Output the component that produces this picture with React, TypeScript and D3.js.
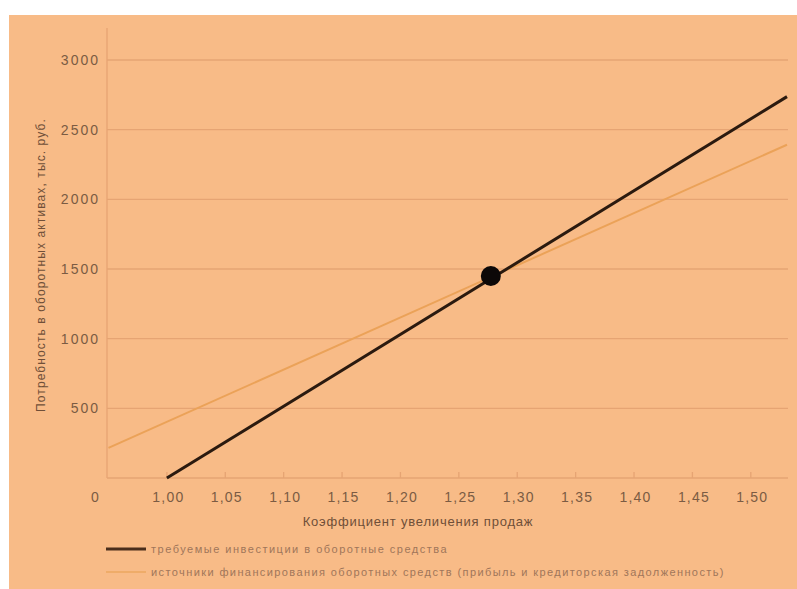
import React from "react";
import * as d3 from "d3";

const yTicks = [500, 1000, 1500, 2000, 2500, 3000];
const xTicks = [1.0, 1.05, 1.1, 1.15, 1.2, 1.25, 1.3, 1.35, 1.4, 1.45, 1.5];
const investX = [1.0, 1.531];
const investY = [0, 2737];
const sourceX = [0.95, 1.531];
const sourceY = [216, 2392];
const pointX = [1.2774];
const pointY = [1450];
const legendLabels = [
  "требуемые инвестиции в оборотные средства",
  "источники финансирования оборотных средств (прибыль и кредиторская задолженность)",
];

const W = 797;
const H = 589;

export default function App() {
  const x = d3.scaleLinear().domain([0.95, 1.531]).range([108.5, 787]);
  const y = d3.scaleLinear().domain([0, 3000]).range([478, 60]);
  const line = d3
    .line<[number, number]>()
    .x((d) => x(d[0]))
    .y((d) => y(d[1]));
  const invest = investX.map((v, i) => [v, investY[i]] as [number, number]);
  const source = sourceX.map((v, i) => [v, sourceY[i]] as [number, number]);
  const bg = "#f8bb87";
  const grid = "#e6a473";
  const txt = "#7b5b43";
  const font = "'Liberation Sans', Arial, sans-serif";
  return (
    <svg
      width={W}
      height={H}
      style={{ position: "absolute", left: 0, top: 0 }}
      fontFamily={font}
    >
      <rect x={0} y={0} width={W} height={H} fill="#ffffff" />
      <rect x={9} y={15} width={W - 9} height={H - 15} fill={bg} />
      {yTicks.map((t) => (
        <g key={t}>
          <line x1={107} x2={788} y1={y(t)} y2={y(t)} stroke={grid} strokeWidth={1.3} />
          <text
            x={100}
            y={y(t)}
            dy="0.35em"
            textAnchor="end"
            fontSize={14}
            letterSpacing={2}
            fill={txt}
          >
            {t}
          </text>
        </g>
      ))}
      <line x1={107} x2={107} y1={28} y2={478} stroke={grid} strokeWidth={1.3} />
      <line x1={107} x2={788} y1={478} y2={478} stroke={grid} strokeWidth={1.3} />
      {xTicks.map((t) => (
        <g key={t}>
          <line x1={x(t)} x2={x(t)} y1={472} y2={478} stroke={grid} strokeWidth={1.3} />
          <text
            x={x(t) + 1.5}
            y={497}
            dy="0.35em"
            textAnchor="middle"
            fontSize={14}
            letterSpacing={1.2}
            fill={txt}
          >
            {t.toFixed(2).replace(".", ",")}
          </text>
        </g>
      ))}
      <text x={95} y={497} dy="0.35em" textAnchor="middle" fontSize={14} fill={txt}>
        0
      </text>
      <text
        transform={`translate(41,265) rotate(-90)`}
        textAnchor="middle"
        dy="0.35em"
        fontSize={12}
        letterSpacing={1.1}
        fill="#6f4f38"
      >
        Потребность в оборотных активах, тыс. руб.
      </text>
      <text
        x={418}
        y={521}
        dy="0.35em"
        textAnchor="middle"
        fontSize={13}
        letterSpacing={0.8}
        fill="#6f4f38"
      >
        Коэффициент увеличения продаж
      </text>
      <path d={line(source) || ""} fill="none" stroke="#eba258" strokeWidth={2} />
      <path d={line(invest) || ""} fill="none" stroke="#2b1a0f" strokeWidth={3} />
      {pointX.map((v, i) => (
        <circle key={i} cx={x(v)} cy={y(pointY[i])} r={10} fill="#0c0808" />
      ))}
      <line x1={106} x2={146} y1={549} y2={549} stroke="#4a2e1c" strokeWidth={3} />
      <text x={151} y={549} dy="0.35em" fontSize={11} letterSpacing={1.5} fill="#a0765a">
        {legendLabels[0]}
      </text>
      <line x1={106} x2={146} y1={572} y2={572} stroke="#eda75f" strokeWidth={1.5} />
      <text x={151} y={572} dy="0.35em" fontSize={11} letterSpacing={1.4} fill="#a0765a">
        {legendLabels[1]}
      </text>
    </svg>
  );
}
